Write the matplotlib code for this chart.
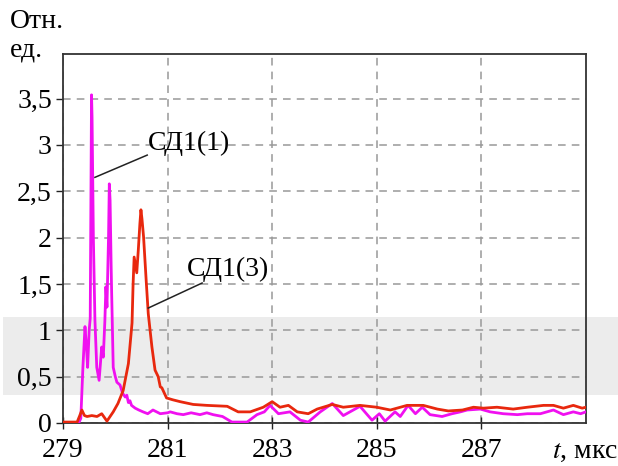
import matplotlib.pyplot as plt
from matplotlib.patches import Rectangle

plt.rcParams['font.family'] = ['Liberation Serif', 'DejaVu Serif']

# СД1(1) signal, time in мкс / relative units
t1 = [279.0, 279.3, 279.34, 279.38, 279.42, 279.45, 279.47, 279.50, 279.52, 279.545,
      279.555, 279.58, 279.61, 279.645, 279.69, 279.74, 279.77, 279.80, 279.82, 279.84,
      279.87, 279.885, 279.9, 279.92, 279.93, 279.96, 280.0, 280.03, 280.09, 280.14,
      280.19, 280.22, 280.25, 280.28, 280.31, 280.38, 280.45, 280.53, 280.62, 280.72,
      280.86, 281.0, 281.05, 281.18, 281.3, 281.45, 281.62, 281.75, 281.87, 282.05,
      282.23, 282.52, 282.71, 282.85, 282.96, 283.12, 283.34, 283.54, 283.69, 283.92,
      284.15, 284.36, 284.52, 284.68, 284.91, 285.05, 285.16, 285.35, 285.45, 285.6,
      285.74, 285.87, 286.02, 286.25, 286.44, 286.6, 286.73, 286.98, 287.17, 287.42,
      287.69, 287.88, 288.13, 288.38, 288.57, 288.76, 288.9, 289.0]
v1 = [0.0, 0.0, 0.05, 0.6, 1.04, 0.8, 0.6, 1.0, 1.13, 3.54,
      3.3, 2.0, 1.11, 0.6, 0.46, 0.82, 0.71, 1.1, 1.47, 1.25,
      2.0, 2.58, 2.4, 1.7, 1.4, 0.6, 0.5, 0.44, 0.41, 0.32,
      0.28, 0.3, 0.22, 0.24, 0.19, 0.16, 0.14, 0.12, 0.1, 0.14,
      0.1, 0.11, 0.12, 0.1, 0.09, 0.11, 0.09, 0.11, 0.09, 0.07,
      0.01, 0.01, 0.09, 0.12, 0.19, 0.1, 0.12, 0.03, 0.01, 0.12,
      0.21, 0.08, 0.13, 0.18, 0.03, 0.1, 0.02, 0.12, 0.07, 0.19,
      0.1, 0.17, 0.09, 0.07, 0.1, 0.12, 0.14, 0.15, 0.12, 0.1,
      0.09, 0.1, 0.1, 0.14, 0.09, 0.12, 0.1, 0.12]

# СД1(3) signal
t3 = [279.0, 279.27, 279.32, 279.36, 279.41, 279.46, 279.55, 279.65, 279.74, 279.84,
      279.96, 280.05, 280.15, 280.25, 280.32, 280.34, 280.36, 280.41, 280.44, 280.47,
      280.49, 280.51, 280.54, 280.59, 280.63, 280.7, 280.76, 280.82, 280.86, 280.89,
      280.98, 281.1, 281.24, 281.49, 281.75, 282.14, 282.35, 282.58, 282.83, 283.0,
      283.15, 283.31, 283.48, 283.69, 283.86, 284.15, 284.36, 284.68, 285.0, 285.26,
      285.58, 285.89, 286.16, 286.37, 286.64, 286.85, 287.04, 287.3, 287.61, 287.88,
      288.19, 288.38, 288.57, 288.76, 288.93, 289.0]
v3 = [0.01, 0.01, 0.08, 0.14, 0.08, 0.07, 0.08, 0.07, 0.1, 0.02,
      0.12, 0.21, 0.35, 0.64, 1.08, 1.5, 1.79, 1.62, 1.87, 2.15,
      2.3, 2.2, 2.01, 1.54, 1.18, 0.82, 0.57, 0.5, 0.39, 0.38,
      0.27, 0.25, 0.23, 0.2, 0.19, 0.18, 0.12, 0.12, 0.17, 0.23,
      0.17, 0.19, 0.12, 0.1, 0.15, 0.2, 0.17, 0.19, 0.17, 0.14,
      0.19, 0.19, 0.15, 0.13, 0.14, 0.17, 0.16, 0.17, 0.15, 0.17,
      0.19, 0.19, 0.16, 0.19, 0.16, 0.17]

xticks = [279, 281, 283, 285, 287]
yticks = [0, 0.5, 1, 1.5, 2, 2.5, 3, 3.5]
ylabels = ['0', '0,5', '1', '1,5', '2', '2,5', '3', '3,5']

fs = 20
fig = plt.figure(figsize=(6.18, 4.66), dpi=100)
fig.patches.append(Rectangle((0.005, 0.152), 0.995, 0.168, transform=fig.transFigure,
                             facecolor='#ececec', edgecolor='none', zorder=-1))

ax = fig.add_axes([0.102, 0.0923, 0.846, 0.7917])
ax.set_facecolor('none')
ax.set_xlim(279, 289)
ax.set_ylim(0, 3.98)

ax.plot(t1, v1, color='#f010f0', lw=2.0, zorder=3)
ax.plot(t3, v3, color='#e8280e', lw=2.0, zorder=4)

ax.set_xticks(xticks)
ax.set_xticklabels([str(x) for x in xticks], fontsize=fs)
ax.set_yticks(yticks)
ax.set_yticklabels(ylabels, fontsize=fs)
ax.tick_params(axis='x', direction='inout', length=9, width=1, pad=6, colors='#222222')
ax.tick_params(axis='y', direction='out', length=5, width=1, pad=3, colors='#222222')
for lab in ax.get_xticklabels() + ax.get_yticklabels():
    lab.set_color('black')

ax.grid(True, color='#999999', linestyle=(0, (5, 4)), linewidth=1.1)
for s in ax.spines.values():
    s.set_color('#333333')
    s.set_linewidth(1.3)

# callouts
ax.plot([279.61, 280.61], [2.65, 2.89], color='#222222', lw=1.1, zorder=5)
ax.text(280.63, 3.02, 'СД1(1)', fontsize=fs, va='center', ha='left', zorder=6)
ax.plot([280.63, 281.66], [1.24, 1.51], color='#222222', lw=1.1, zorder=5)
ax.text(281.37, 1.66, 'СД1(3)', fontsize=fs, va='center', ha='left', zorder=6)

fig.text(10 / 618, 1 - 22 / 466, 'Отн.', fontsize=fs, va='center', ha='left')
fig.text(10 / 618, 1 - 50 / 466, 'ед.', fontsize=fs, va='center', ha='left')
fig.text(552 / 618, 1 - 452 / 466, r'$t$, мкс', fontsize=fs, va='center', ha='left',
         math_fontfamily='stix')

fig.savefig('out.png', dpi=100)
